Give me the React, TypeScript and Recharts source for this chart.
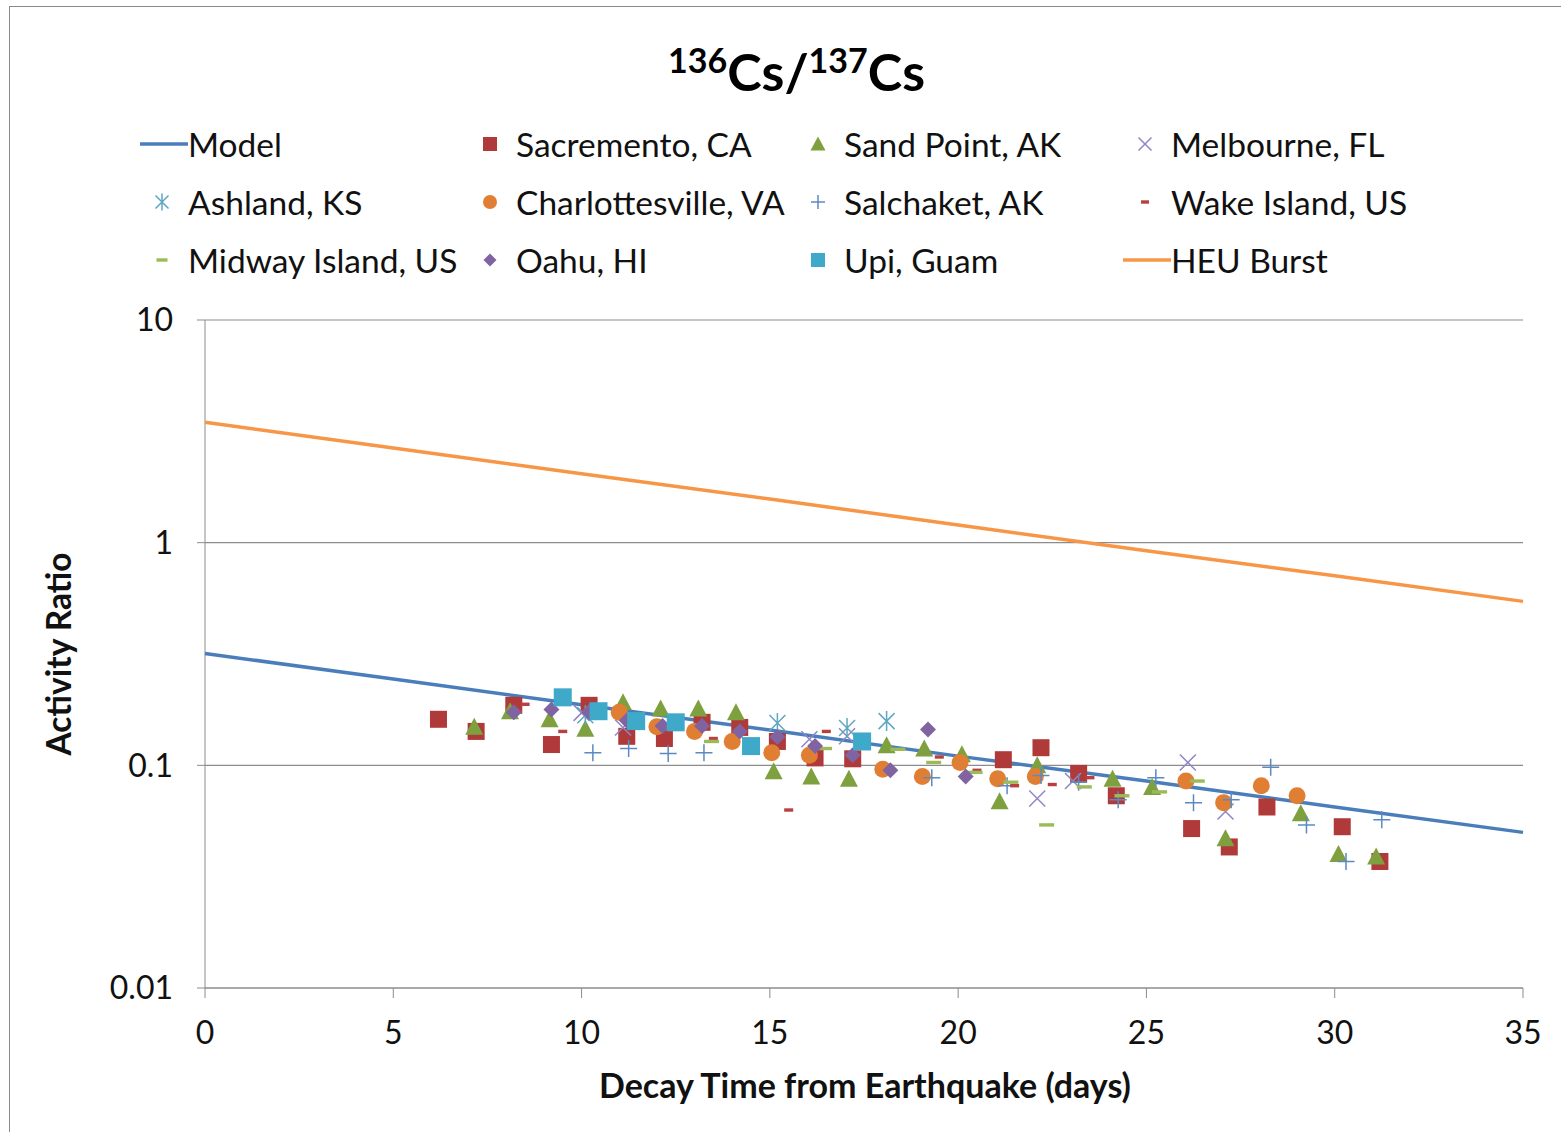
import React from "react";
import { ScatterChart, Scatter, XAxis, YAxis, CartesianGrid } from "recharts";

// [day, activity ratio]
const model: [number, number][] = [
  [0, 0.318], [5, 0.244], [10, 0.187], [15, 0.144], [20, 0.11], [25, 0.085], [30, 0.065], [35, 0.05],
];
const heuBurst: [number, number][] = [
  [0, 3.47], [5, 2.66], [10, 2.04], [15, 1.57], [20, 1.2], [25, 0.92], [30, 0.71], [35, 0.545],
];
const sacramento: [number, number][] = [
  [6.2, 0.161], [7.2, 0.142], [8.2, 0.186], [9.2, 0.124], [10.2, 0.186], [11.2, 0.135], [12.2, 0.132],
  [13.2, 0.156], [14.2, 0.148], [15.2, 0.128], [16.2, 0.108], [17.2, 0.107], [21.2, 0.106], [22.2, 0.12],
  [23.2, 0.092], [24.2, 0.073], [26.2, 0.052], [27.2, 0.043], [28.2, 0.065], [30.2, 0.053], [31.2, 0.037],
];
const sandPoint: [number, number][] = [
  [7.15, 0.149], [8.1, 0.175], [9.15, 0.161], [10.1, 0.146], [11.1, 0.192], [12.1, 0.18], [13.1, 0.18],
  [14.1, 0.173], [15.1, 0.094], [16.1, 0.089], [17.1, 0.087], [18.1, 0.123], [19.1, 0.119], [20.1, 0.112],
  [21.1, 0.069], [22.1, 0.1], [24.1, 0.087], [25.15, 0.08], [27.1, 0.047], [29.1, 0.061], [30.1, 0.04],
  [31.1, 0.039],
];
const melbourne: [number, number][] = [
  [10.0, 0.172], [11.1, 0.148], [16.05, 0.131], [17.05, 0.135], [22.1, 0.071], [23.05, 0.085],
  [26.1, 0.103], [27.1, 0.062],
];
const ashland: [number, number][] = [
  [10.1, 0.168], [15.2, 0.155], [17.05, 0.147], [18.1, 0.158],
];
const charlottesville: [number, number][] = [
  [11.0, 0.173], [12.0, 0.149], [13.0, 0.142], [14.0, 0.128], [15.05, 0.114], [16.05, 0.111], [18.0, 0.096],
  [19.05, 0.089], [20.05, 0.103], [21.05, 0.087], [22.05, 0.089], [26.05, 0.085], [27.05, 0.068],
  [28.05, 0.081], [29.0, 0.073],
];
const salchaket: [number, number][] = [
  [10.3, 0.114], [11.25, 0.119], [12.3, 0.113], [13.25, 0.114], [19.3, 0.088], [21.3, 0.081], [22.2, 0.09],
  [23.2, 0.084], [24.25, 0.07], [25.25, 0.088], [26.25, 0.068], [27.25, 0.07], [28.3, 0.098],
  [29.25, 0.054], [30.3, 0.037], [31.25, 0.057],
];
const wakeIsland: [number, number][] = [
  [8.5, 0.188], [9.5, 0.142], [13.5, 0.132], [15.5, 0.063], [16.5, 0.142], [19.5, 0.109], [20.5, 0.095],
  [21.5, 0.081], [22.5, 0.082], [23.5, 0.088],
];
const midwayIsland: [number, number][] = [
  [13.45, 0.128], [16.45, 0.119], [18.4, 0.118], [19.35, 0.103], [20.45, 0.093], [21.4, 0.084],
  [22.35, 0.054], [23.35, 0.08], [24.35, 0.073], [25.35, 0.076], [26.35, 0.085],
];
const oahu: [number, number][] = [
  [8.2, 0.173], [9.2, 0.178], [10.2, 0.173], [11.2, 0.159], [12.15, 0.15], [13.2, 0.15], [14.2, 0.142],
  [15.2, 0.134], [16.2, 0.122], [17.2, 0.111], [18.2, 0.095], [19.2, 0.145], [20.2, 0.089],
];
const upiGuam: [number, number][] = [
  [9.5, 0.202], [10.45, 0.175], [11.45, 0.158], [12.5, 0.156], [14.5, 0.122], [17.45, 0.128],
];

const xTicks = [0, 5, 10, 15, 20, 25, 30, 35];
const yTicks = [0.01, 0.1, 1, 10];

const FONT = "Lato, 'Open Sans', sans-serif";

type Kind = "square" | "triangle" | "x" | "star" | "circle" | "plus" | "dash" | "smalldash" | "diamond" | "line";

const drawMarker = (kind: Kind, color: string, cx: number, cy: number, s: number) => {
  const h = s / 2;
  switch (kind) {
    case "square":
      return <rect x={cx - h} y={cy - h} width={s} height={s} fill={color} />;
    case "triangle":
      return <polygon points={`${cx},${cy - h - 1} ${cx + h + 1},${cy + h} ${cx - h - 1},${cy + h}`} fill={color} />;
    case "circle":
      return <circle cx={cx} cy={cy} r={h} fill={color} />;
    case "diamond":
      return <polygon points={`${cx},${cy - h} ${cx + h},${cy} ${cx},${cy + h} ${cx - h},${cy}`} fill={color} />;
    case "x":
      return (
        <path d={`M${cx - h},${cy - h}L${cx + h},${cy + h}M${cx - h},${cy + h}L${cx + h},${cy - h}`} stroke={color} strokeWidth={1.5} />
      );
    case "plus":
      return <path d={`M${cx - h},${cy}L${cx + h},${cy}M${cx},${cy - h}L${cx},${cy + h}`} stroke={color} strokeWidth={1.5} />;
    case "star":
      return (
        <path
          d={`M${cx - h},${cy - h}L${cx + h},${cy + h}M${cx - h},${cy + h}L${cx + h},${cy - h}M${cx},${cy - h - 2}L${cx},${cy + h + 2}`}
          stroke={color}
          strokeWidth={1.5}
        />
      );
    case "dash":
    case "smalldash":
      return <rect x={cx - h} y={cy - 1.7} width={s} height={3.4} fill={color} />;
    default:
      return <g />;
  }
};

type Series = { name: string; data: [number, number][]; kind: Kind; color: string; size: number };

const series: Series[] = [
  { name: "Model", data: model, kind: "line", color: "#4a7ebb", size: 0 },
  { name: "Sacremento, CA", data: sacramento, kind: "square", color: "#b03a3a", size: 17 },
  { name: "Sand Point, AK", data: sandPoint, kind: "triangle", color: "#7ea03f", size: 16 },
  { name: "Melbourne, FL", data: melbourne, kind: "x", color: "#8f86c4", size: 16 },
  { name: "Ashland, KS", data: ashland, kind: "star", color: "#5fa6c2", size: 16 },
  { name: "Charlottesville, VA", data: charlottesville, kind: "circle", color: "#e07f33", size: 17 },
  { name: "Salchaket, AK", data: salchaket, kind: "plus", color: "#5b8ac2", size: 17 },
  { name: "Wake Island, US", data: wakeIsland, kind: "smalldash", color: "#b8413f", size: 9 },
  { name: "Midway Island, US", data: midwayIsland, kind: "dash", color: "#9bbb59", size: 15 },
  { name: "Oahu, HI", data: oahu, kind: "diamond", color: "#8064a2", size: 16 },
  { name: "Upi, Guam", data: upiGuam, kind: "square", color: "#3fa9c9", size: 18 },
  { name: "HEU Burst", data: heuBurst, kind: "line", color: "#f79646", size: 0 },
];

const toPoints = (d: [number, number][]) => d.map(([day, ratio]) => ({ day, ratio }));

const legendSmall: Partial<Record<Kind, number>> = {
  square: 14, triangle: 13, circle: 14, diamond: 13, x: 13, plus: 14, star: 13, dash: 11, smalldash: 8,
};

const LegendItem = ({ s, left, top }: { s: Series; left: number; top: number }) => (
  <div style={{ position: "absolute", left, top, height: 40, display: "flex", alignItems: "center" }}>
    <svg width={50} height={40} style={{ display: "block" }}>
      {s.kind === "line" ? (
        <line x1={0} y1={20} x2={48} y2={20} stroke={s.color} strokeWidth={3.5} />
      ) : (
        drawMarker(s.kind, s.color, 22, 20, legendSmall[s.kind] ?? 10)
      )}
    </svg>
    <span style={{ fontFamily: FONT, fontSize: 33.5, color: "#111", whiteSpace: "nowrap", marginLeft: -2 }}>{s.name}</span>
  </div>
);

const colLeft = [140, 468, 796, 1123];
const rowTop = [124, 182, 240];

export default function App() {
  return (
    <div style={{ position: "absolute", left: 0, top: 0, width: 1561, height: 1132, background: "#fff", overflow: "hidden" }}>
      <div style={{ position: "absolute", left: 9, top: 6, right: 0, bottom: 0, borderLeft: "1.5px solid #8a8a8a", borderTop: "1.5px solid #8a8a8a" }} />
      <div
        style={{
          position: "absolute",
          left: 0,
          width: 1561,
          top: 30,
          textAlign: "center",
          fontFamily: FONT,
          fontWeight: "bold",
          fontSize: 52,
          lineHeight: "60px",
          paddingLeft: 16,
          color: "#000",
        }}
      >
        <sup style={{ fontSize: 34 }}>136</sup>Cs/<sup style={{ fontSize: 34 }}>137</sup>Cs
      </div>
      {series.map((s, i) => (
        <LegendItem key={s.name} s={s} left={colLeft[i % 4]} top={rowTop[Math.floor(i / 4)]} />
      ))}
      <ScatterChart
        width={1561}
        height={1132}
        margin={{ top: 320, right: 38, bottom: 44, left: 125 }}
        style={{ position: "absolute", left: 0, top: 0 }}
      >
        <CartesianGrid vertical={false} stroke="#8c8c8c" strokeWidth={1.2} />
        <XAxis
          type="number"
          dataKey="day"
          domain={[0, 35]}
          ticks={xTicks}
          height={100}
          stroke="#8c8c8c"
          tickSize={10}
          tickMargin={23}
          tick={{ fill: "#111", fontSize: 32, fontFamily: FONT }}
          label={{
            content: () => (
              <text x={865} y={1098} textAnchor="middle" fontFamily={FONT} fontWeight="bold" fontSize={34} fill="#111">
                Decay Time from Earthquake (days)
              </text>
            ),
          }}
        />
        <YAxis
          type="number"
          dataKey="ratio"
          scale="log"
          domain={[0.01, 10]}
          ticks={yTicks}
          allowDataOverflow
          width={80}
          stroke="#8c8c8c"
          tickSize={8}
          tickMargin={24}
          tick={{ fill: "#111", fontSize: 32, fontFamily: FONT }}
          label={{
            content: () => (
              <text
                x={62}
                y={654}
                transform="rotate(-90 62 654)"
                textAnchor="middle"
                dominantBaseline="middle"
                fontFamily={FONT}
                fontWeight="bold"
                fontSize={33.5}
                fill="#111"
              >
                Activity Ratio
              </text>
            ),
          }}
        />
        {series.map((s) =>
          s.kind === "line" ? (
            <Scatter
              key={s.name}
              name={s.name}
              data={toPoints(s.data)}
              line={{ stroke: s.color, strokeWidth: 3.5 }}
              lineType="joint"
              shape={() => <g />}
              isAnimationActive={false}
            />
          ) : (
            <Scatter
              key={s.name}
              name={s.name}
              data={toPoints(s.data)}
              shape={(p: any) => drawMarker(s.kind, s.color, p.cx, p.cy, s.size)}
              isAnimationActive={false}
            />
          )
        )}
      </ScatterChart>
    </div>
  );
}
